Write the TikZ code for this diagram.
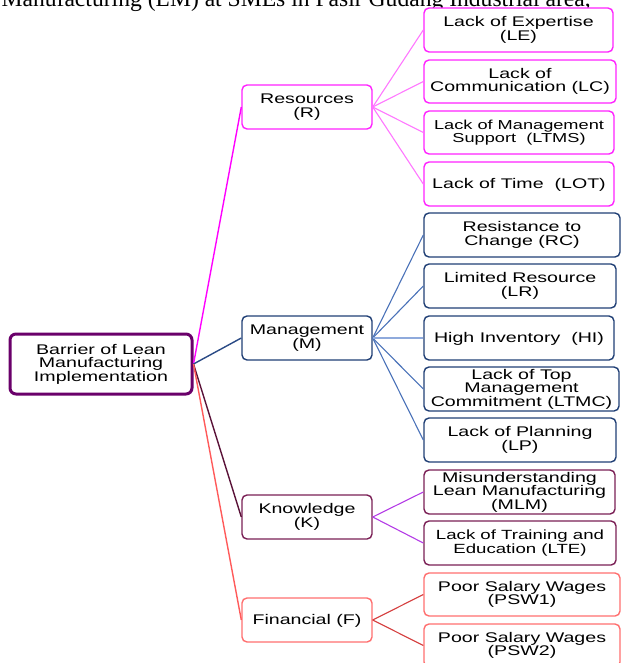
\documentclass[tikz,border=0pt]{standalone}
\usepackage{fontspec}
\setmainfont{Liberation Sans}[FakeStretch=1.4]
\newfontfamily\paperfont{Liberation Serif}
\definecolor{magB}{HTML}{FF22FF}
\definecolor{magL}{HTML}{FF77FF}
\definecolor{magD}{HTML}{FF00FF}
\definecolor{navyB}{HTML}{203F75}
\definecolor{blueL}{HTML}{4A72B8}
\definecolor{blueLL}{HTML}{8FAADC}
\definecolor{rootM}{HTML}{2A4A85}
\definecolor{marB}{HTML}{7A1F55}
\definecolor{rootK}{HTML}{5A1238}
\definecolor{vioL}{HTML}{B43CE6}
\definecolor{redB}{HTML}{FF6F6F}
\definecolor{rootF}{HTML}{FF5A5A}
\definecolor{redL}{HTML}{D43C3C}
\definecolor{rootB}{HTML}{6A006A}
\begin{document}
\begin{tikzpicture}[x=1pt,y=-1pt,
  box/.style={draw, rounded corners=5pt, line width=1.4pt, fill=white, inner sep=0pt,
    align=center, font=\fontsize{14}{13.4}\selectfont, minimum height=44pt,
    execute at begin node={\rule{0pt}{12.8pt}}},
  midbox/.style={box, minimum width=130pt},
  conn/.style={line width=1.1pt},
  mainconn/.style={line width=1.4pt}]
\clip (0,0) rectangle (621,663);
\useasboundingbox (0,0) rectangle (621,663);

% cropped paper text
\node[anchor=base east, inner sep=0pt, font=\paperfont\fontsize{23.6}{26}\selectfont] (paper) at (591,6.8)
  {Manufacturing (LM) at SMEs in Pasir Gudang Industrial area,};

% root
\node[box, draw=rootB, line width=3pt, rounded corners=6pt, minimum width=182pt, minimum height=60pt] (root) at (101,364)
  {Barrier of Lean\\Manufacturing\\Implementation};

% middle level
\node[midbox, draw=magB] (R) at (307,107) {Resources\\(R)};
\node[midbox, draw=navyB] (M) at (307,338) {Management\\(M)};
\node[midbox, draw=marB] (K) at (307,517) {Knowledge\\(K)};
\node[midbox, draw=redB] (F) at (307,620) {Financial (F)};

% right level: Resources
\node[box, draw=magB, minimum width=189pt] (LE) at (518.5,30) {Lack of Expertise\\(LE)};
\node[box, draw=magB, minimum width=192pt, minimum height=43pt] (LC) at (520,81.5) {Lack of\\Communication (LC)};
\node[box, draw=magB, minimum width=190pt, minimum height=43pt, font=\fontsize{13}{13}\selectfont] (LTMS) at (519,132.5) {Lack of Management\\Support\ \ (LTMS)};
\node[box, draw=magB, minimum width=190pt] (LOT) at (519,184) {Lack of Time\ \ (LOT)};

% Management
\node[box, draw=navyB, minimum width=196pt] (RC) at (522,235) {Resistance to\\Change (RC)};
\node[box, draw=navyB, minimum width=192pt] (LR) at (520,286) {Limited Resource\\(LR)};
\node[box, draw=navyB, minimum width=190pt] (HI) at (519,338) {High Inventory\ \ (HI)};
\node[box, draw=navyB, minimum width=195pt] (LTMC) at (521.5,389) {Lack of Top\\Management\\Commitment (LTMC)};
\node[box, draw=navyB, minimum width=192pt] (LP) at (520,440) {Lack of Planning\\(LP)};

% Knowledge
\node[box, draw=marB, minimum width=191pt] (MLM) at (519.5,492) {Misunderstanding\\Lean Manufacturing\\(MLM)};
\node[box, draw=marB, minimum width=192pt, font=\fontsize{13.3}{13.4}\selectfont] (LTE) at (520,543) {Lack of Training and\\Education (LTE)};

% Financial
\node[box, draw=redB, minimum width=196pt, minimum height=43pt] (PSW1) at (522,594.5) {Poor Salary Wages\\(PSW1)};
\node[box, draw=redB, minimum width=196pt, minimum height=43pt] (PSW2) at (522,645.5) {Poor Salary Wages\\(PSW2)};

% connectors root -> middle
\draw[mainconn, magD] (root.east) -- (R.west);
\draw[mainconn, rootM] (root.east) -- (M.west);
\draw[mainconn, rootK] (root.east) -- (K.west);
\draw[mainconn, rootF] (root.east) -- (F.west);

% middle -> right
\foreach \c in {LE,LC,LTMS,LOT} \draw[conn, magL] (R.east) -- (\c.west);
\foreach \c in {RC,LR,LTMC,LP} \draw[conn, blueL] (M.east) -- (\c.west);
\draw[conn, blueLL] (M.east) -- (HI.west);
\foreach \c in {MLM,LTE} \draw[conn, vioL] (K.east) -- (\c.west);
\foreach \c in {PSW1,PSW2} \draw[conn, redL] (F.east) -- (\c.west);
\end{tikzpicture}
\end{document}
